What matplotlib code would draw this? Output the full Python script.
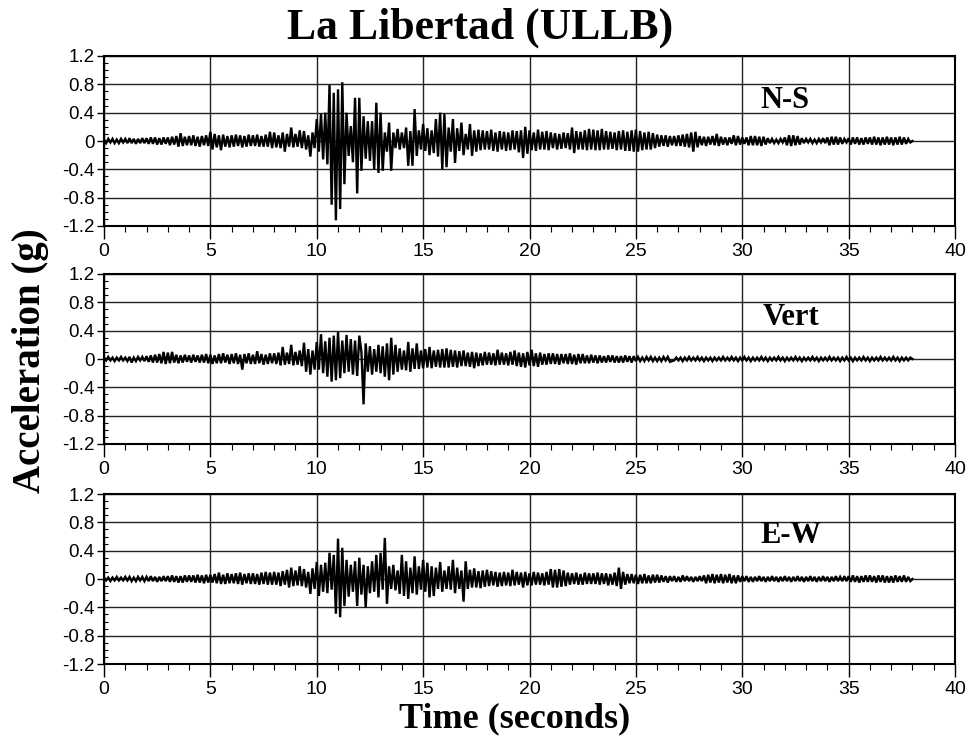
import numpy as np
import matplotlib
matplotlib.use("Agg")
import matplotlib.pyplot as plt
from matplotlib.ticker import MultipleLocator, FixedLocator, FixedFormatter

plt.rcParams['axes.unicode_minus'] = False

dt = 0.1
unit = 0.01

ns_vals = [
    2,-3,3,-2,3,-3,2,-3,3,-2,
    3,-3,4,-3,3,-4,3,-3,4,-3,
    4,-4,5,-4,5,-5,4,-5,5,-4,
    5,-6,6,-5,7,-8,11,-7,6,-6,
    7,-6,8,-7,6,-8,7,-6,8,-7,
    13,-12,10,-9,8,-13,9,-8,7,-9,
    8,-8,9,-7,8,-9,7,-8,9,-7,
    8,-7,9,-8,7,-8,9,-8,13,-10,
    12,-9,8,-10,12,-15,10,-8,19,-9,
    10,-8,15,-10,14,-12,8,-22,12,-10,
    31,-15,38,-26,40,-33,79,-90,68,-112,
    73,-96,83,-61,40,-21,21,-30,61,-74,
    61,-42,35,-25,28,-28,28,-40,54,-45,
    40,-42,12,-15,26,-42,12,-10,17,-12,
    12,-10,19,-35,14,-35,45,-21,15,-12,
    24,-14,18,-20,15,-17,31,-22,40,-40,
    38,-37,19,-15,31,-31,18,-14,26,-20,
    10,-12,24,-21,15,-15,16,-13,15,-12,
    14,-12,16,-14,12,-15,14,-12,13,-14,
    12,-13,15,-12,14,-16,15,-24,20,-18,
    15,-13,12,-14,16,-12,13,-12,14,-13,
    12,-10,11,-12,10,-11,12,-10,11,-12,
    19,-17,14,-12,13,-12,15,-13,17,-12,
    16,-13,15,-13,17,-12,14,-12,13,-11,
    12,-13,14,-12,15,-14,13,-14,15,-15,
    16,-15,14,-13,12,-12,13,-12,11,-10,
    9,-8,8,-7,8,-8,7,-6,7,-7,
    8,-7,9,-8,10,-9,12,-15,13,-9,
    7,-6,6,-7,6,-5,7,-6,10,-7,
    6,-5,5,-6,5,-4,8,-6,7,-5,
    5,-4,5,-6,7,-6,7,-6,6,-7,
    6,-5,4,-3,3,-3,2,-3,3,-2,
    5,-6,8,-7,8,-6,7,-5,4,-3,
    3,-2,3,-3,2,-3,3,-2,4,-3,
    5,-6,6,-5,6,-5,5,-4,3,-2,
    4,-5,5,-4,5,-5,4,-5,5,-4,
    5,-5,6,-5,5,-6,5,-5,6,-5,
    5,-6,5,-5,6,-5,5,-4,3,-2,
    0,
]

vert_vals = [
    2,-2,3,-2,2,-3,2,-2,3,-2,
    2,-3,3,-5,2,-3,3,-2,3,-3,
    4,-4,5,-5,6,-5,7,-6,10,-7,
    9,-6,10,-5,6,-6,5,-5,6,-4,
    5,-5,6,-4,5,-5,6,-5,7,-6,
    6,-7,5,-6,7,-6,8,-5,6,-7,
    7,-6,8,-7,6,-15,7,-6,8,-7,
    6,-7,11,-6,7,-8,6,-7,8,-6,
    8,-7,9,-9,17,-8,9,-7,20,-9,
    10,-8,12,-10,23,-18,14,-22,12,-15,
    24,-15,35,-20,25,-25,30,-32,33,-30,
    38,-27,26,-20,34,-18,28,-22,26,-24,
    33,10,-64,22,-18,18,-22,14,-18,20,
    -20,18,-25,22,-30,30,-22,20,-18,15,
    -15,12,-16,24,-18,15,-14,22,-14,12,
    -13,14,-12,17,-13,12,-11,13,-12,14,
    -12,15,-12,13,-11,12,-12,11,-10,12,
    -10,9,-11,10,-13,9,-10,8,-9,10,
    -8,9,-8,8,-9,13,-8,9,-8,8,
    -9,10,-8,12,-10,9,-11,8,-12,10,
    -9,13,-10,8,-11,9,-8,7,-8,8,
    -7,8,-7,7,-8,7,-6,7,-7,8,
    -7,6,-8,7,-6,7,-6,5,-6,6,
    -5,5,-6,5,-5,4,-5,5,-4,5,
    -5,4,-5,4,-5,5,-4,4,-5,4,
    -3,3,-3,2,-3,3,-2,3,-3,2,
    -3,2,-3,3,-2,3,-4,-3,-2,2,
    -2,2,-3,2,-2,3,-2,2,-2,3,
    -2,2,-3,2,-2,2,-3,2,-2,2,
    -2,3,-2,2,-2,3,-2,2,-3,2,
    -2,3,-2,2,-3,2,-2,2,-2,3,
    -2,2,-3,2,-2,2,-2,3,-2,2,
    -3,2,-2,2,-2,3,-2,2,-3,2,
    -2,2,-2,3,-2,2,-3,2,-2,2,
    -2,3,-2,2,-2,2,-3,2,-2,3,
    -2,2,-3,2,-2,2,-2,3,-2,2,
    -3,2,-2,2,-2,3,-2,2,-2,2,
    -2,3,-2,2,-3,2,-2,2,-2,2,
    0,
]

ew_vals = [
    2,-2,2,-3,2,-2,3,-2,2,-2,
    3,-2,3,-3,2,-3,3,-2,3,-3,
    3,-3,4,-3,3,-4,3,-3,4,-3,
    4,-4,5,-4,4,-5,4,-5,5,-4,
    5,-4,5,-5,6,-5,5,-6,6,-5,
    6,-5,7,-6,9,-7,6,-7,8,-6,
    7,-6,8,-7,9,-8,7,-6,8,-7,
    8,-7,7,-8,9,-7,10,-8,9,-8,
    10,-8,9,-10,11,-8,13,-12,16,-10,
    12,-9,18,-10,14,-12,10,-21,15,-14,
    24,-24,20,-18,23,-20,37,-15,34,-49,
    57,-54,44,-38,27,-25,20,-18,25,-38,
    30,-22,20,-40,18,-20,25,-18,34,-26,
    37,-15,58,-35,18,-14,20,-16,12,-21,
    34,-24,25,-28,16,-20,32,-22,18,-15,
    27,-18,23,-26,18,-24,16,-14,24,-18,
    12,-14,18,-15,27,-20,16,-14,12,-32,
    25,-14,13,-12,15,-12,11,-13,12,-11,
    13,-10,11,-9,10,-11,9,-10,10,-9,
    9,-10,13,-9,10,-8,9,-12,10,-9,
    8,-9,10,-8,9,-8,8,-9,10,-8,
    14,-12,13,-12,14,-11,12,-10,9,-8,
    8,-7,9,-8,7,-8,9,-7,8,-7,
    8,-7,9,-8,8,-7,8,-9,7,-8,
    9,-10,16,-14,10,-8,7,-6,7,-6,
    6,-7,6,-6,7,-6,5,-6,6,-5,
    6,-5,5,-4,4,-5,4,-3,4,-4,
    3,-4,5,-3,4,-3,3,-4,3,-3,
    4,-3,5,-6,6,-5,7,-6,6,-5,
    7,-6,6,-5,7,-6,5,-6,5,-4,
    4,-3,4,-4,3,-4,3,-3,4,-3,
    3,-4,3,-3,4,-3,3,-4,3,-3,
    4,-3,3,-4,3,-3,4,-3,3,-4,
    3,-3,4,-3,3,-4,3,-3,4,-3,
    3,-4,3,-3,4,-3,3,-3,4,-3,
    4,-4,5,-4,4,-5,4,-4,5,-4,
    5,-4,4,-5,5,-4,5,-5,4,-5,
    4,-5,5,-4,4,-4,5,-4,3,-3,
    0,
]

components = ["N-S", "Vert", "E-W"]
series = [ns_vals, vert_vals, ew_vals]
label_pos = [(32.0, 0.57), (32.3, 0.58), (32.3, 0.61)]
ytick_vals = [1.2, 0.8, 0.4, 0, -0.4, -0.8, -1.2]
ytick_labels = ["1.2", "0.8", "0.4", "0", "-0.4", "-0.8", "-1.2"]
xtick_vals = [0, 5, 10, 15, 20, 25, 30, 35, 40]

title = "La Libertad (ULLB)"
ylabel = "Acceleration (g)"
xlabel = "Time (seconds)"

serif = ['Liberation Serif', 'DejaVu Serif']
sans = ['Liberation Sans', 'DejaVu Sans']

fig = plt.figure(figsize=(9.68, 7.40), dpi=100)
left, width, height = 104/968, 851/968, 170/740
bottoms = [1 - 226/740, 1 - 444/740, 1 - 664/740]

for name, vals, b, (lx, ly) in zip(components, series, bottoms, label_pos):
    ax = fig.add_axes([left, b, width, height])
    y = np.asarray(vals, dtype=float) * unit
    t = np.arange(len(y)) * dt
    ax.plot(t, y, color='black', lw=1.7, solid_joinstyle='miter')
    ax.set_xlim(0, 40)
    ax.set_ylim(-1.2, 1.2)
    ax.yaxis.set_major_locator(FixedLocator(ytick_vals))
    ax.yaxis.set_major_formatter(FixedFormatter(ytick_labels))
    ax.yaxis.set_minor_locator(MultipleLocator(0.1))
    ax.xaxis.set_major_locator(FixedLocator(xtick_vals))
    ax.xaxis.set_minor_locator(MultipleLocator(1))
    ax.grid(True, which='major', color='#222222', lw=1.0)
    ax.set_axisbelow(True)
    for s in ax.spines.values():
        s.set_linewidth(1.5)
        s.set_color('black')
    ax.tick_params(axis='y', which='major', direction='out', length=5, width=1,
                   labelsize=13.5, pad=2)
    ax.tick_params(axis='y', which='minor', direction='in', length=3, width=0.8)
    ax.tick_params(axis='x', which='major', direction='out', length=9, width=1,
                   labelsize=14, pad=3)
    ax.tick_params(axis='x', which='minor', direction='out', length=4, width=0.8)
    for lab in ax.get_xticklabels() + ax.get_yticklabels():
        lab.set_family(sans)
    ax.text(lx, ly, name, ha='center', va='center', fontsize=22,
            fontweight='bold', family=serif)

fig.text(0.496, 0.962, title, ha='center', va='center', fontsize=31.5,
         fontweight='bold', family=serif)
fig.text(0.032, 0.512, ylabel, ha='center', va='center', rotation=90,
         fontsize=28, fontweight='bold', family=serif)
fig.text(0.532, 0.029, xlabel, ha='center', va='center', fontsize=26,
         fontweight='bold', family=serif)

fig.savefig("out.png", dpi=100)
